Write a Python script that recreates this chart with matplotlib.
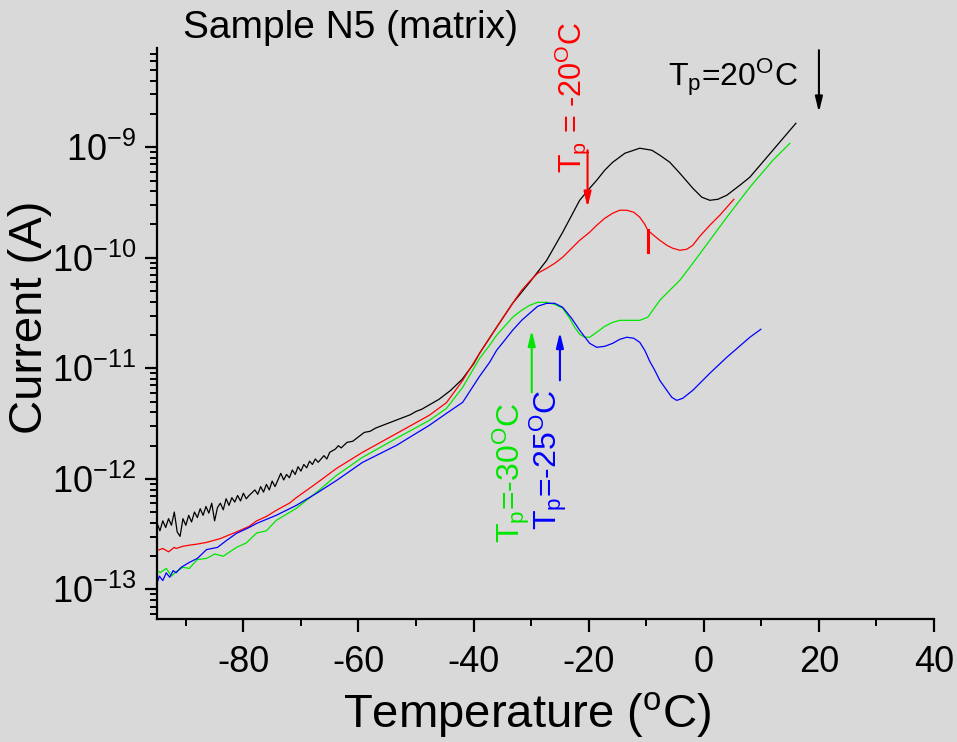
import matplotlib.pyplot as plt
from matplotlib.ticker import NullFormatter
import numpy as np

plt.rcParams['font.family'] = ['Liberation Sans', 'DejaVu Sans']
plt.rcParams['mathtext.fontset'] = 'custom'
plt.rcParams['mathtext.rm'] = 'Liberation Sans'
plt.rcParams['mathtext.it'] = 'Liberation Sans:italic'
plt.rcParams['mathtext.default'] = 'regular'

# temperature (C) / log10(current, A)
T_black = [-95, -94.5, -94, -93.5, -93, -92.5, -92, -91.5, -91, -90.5, -90, -89.5, -89, -88.5,
           -88, -87.5, -87, -86.5, -86, -85.5, -85, -84.5, -84, -83.5, -83, -82.5, -82, -81.5,
           -81, -80.5, -80, -79.5, -79, -78, -77.5, -77, -76.5, -76, -75.5, -75, -74.5, -74,
           -73.5, -73, -72.5, -72, -71.5, -71, -70.5, -70, -69.5, -69, -68.5, -68, -67.5, -67,
           -66, -65.5, -65, -64, -63.5, -63, -62, -61, -60, -59, -58, -57, -56, -55, -54, -53,
           -52, -51, -50, -49, -48, -47, -46, -45, -44, -43, -42, -41, -40,
           -38.96, -36.0, -33.22, -30.26, -27.30, -24.52, -21.57, -19.83, -18.61, -17.22,
           -15.83, -13.7, -11.13, -9.04, -7.65, -5.91, -4.17, -1.91, -0.35, 1.04, 2.43, 4.0,
           6.26, 8.0, 12.0, 16.0]
logI_black = [-12.40, -12.47, -12.38, -12.44, -12.36, -12.42, -12.30, -12.48, -12.52, -12.36,
              -12.42, -12.33, -12.39, -12.30, -12.35, -12.27, -12.33, -12.25, -12.31, -12.22,
              -12.38, -12.26, -12.22, -12.28, -12.18, -12.24, -12.17, -12.21, -12.15, -12.20,
              -12.13, -12.18, -12.15, -12.10, -12.14, -12.07, -12.12, -12.05, -12.10, -12.02,
              -12.07, -12.01, -11.95, -12.01, -11.96, -11.99, -11.92, -11.96, -11.89, -11.93,
              -11.87, -11.90, -11.84, -11.87, -11.82, -11.85, -11.79, -11.82, -11.76, -11.73,
              -11.70, -11.72, -11.67, -11.66, -11.62, -11.58, -11.57, -11.54, -11.52, -11.50,
              -11.48, -11.46, -11.44, -11.42, -11.39, -11.37, -11.34, -11.31, -11.28, -11.24,
              -11.20, -11.15, -11.10, -11.03, -10.96,
              -10.864, -10.629, -10.412, -10.222, -10.023, -9.769, -9.480, -9.371, -9.299, -9.208,
              -9.136, -9.054, -9.009, -9.027, -9.072, -9.136, -9.235, -9.371, -9.452, -9.480,
              -9.471, -9.434, -9.344, -9.271, -9.027, -8.783]

T_red = [-95.1, -94, -93, -92, -91.7, -90.5, -89.4, -88, -86.4, -84, -81.2, -79, -77.7, -76,
         -74.3, -72, -70.8, -67.3, -63.8, -59.3, -53.4, -47.7, -44.7, -41.9,
         -38.96, -36.0, -33.22, -31.65, -30.26, -28.87, -27.30, -25.91, -24.52, -22.96, -21.57,
         -19.83, -18.61, -17.22, -15.83, -14.61, -13.39, -12.17, -11.13, -10.26, -9.74, -8.52,
         -7.65, -6.43, -5.39, -4.17, -2.96, -1.91, -0.70, 1.04, 2.78, 4.0, 5.22]
logI_red = [-12.65, -12.63, -12.66, -12.62, -12.63, -12.61, -12.60, -12.59, -12.575, -12.54,
            -12.48, -12.43, -12.38, -12.34, -12.285, -12.22, -12.17, -12.04, -11.905, -11.76,
            -11.59, -11.425, -11.31, -11.11,
            -10.864, -10.629, -10.412, -10.294, -10.213, -10.140, -10.095, -10.050, -9.995,
            -9.914, -9.842, -9.769, -9.706, -9.643, -9.597, -9.570, -9.570, -9.588, -9.633,
            -9.697, -9.751, -9.805, -9.842, -9.887, -9.914, -9.932, -9.923, -9.887, -9.805,
            -9.706, -9.615, -9.543, -9.471]
# short red mark on the red curve
T_red_mark = [-9.74, -9.74]
logI_red_mark = [-9.751, -9.950]

T_green = [-95.1, -94.5, -93.4, -92.5, -91.7, -90.5, -89.4, -88, -86.4, -85, -83.5, -81.2,
           -79.5, -77.7, -76, -74.3, -70.8, -67.3, -63.8, -59.3, -53.4, -47.7, -44.7, -41.9,
           -38.96, -37.22, -36.0, -34.61, -33.22, -31.65, -30.26, -28.87, -27.30, -25.91,
           -24.52, -23.30, -22.43, -21.57, -20.70, -19.83, -18.61, -17.22, -15.83, -14.61,
           -13.39, -11.13, -9.74, -8.87, -7.65, -5.91, -4.17, -1.91, 1.04, 4.0, 8.0, 12.0,
           14.96]
logI_green = [-12.82, -12.85, -12.81, -12.88, -12.84, -12.80, -12.81, -12.73, -12.72, -12.68,
              -12.70, -12.62, -12.58, -12.49, -12.47, -12.376, -12.267, -12.122, -11.968,
              -11.805, -11.633, -11.471, -11.362, -11.172,
              -10.910, -10.792, -10.701, -10.620, -10.538, -10.475, -10.430, -10.403, -10.403,
              -10.421, -10.457, -10.548, -10.629, -10.692, -10.719, -10.719, -10.674, -10.620,
              -10.584, -10.566, -10.566, -10.566, -10.538, -10.475, -10.385, -10.294, -10.204,
              -10.050, -9.842, -9.633, -9.362, -9.118, -8.964]

T_blue = [-95.1, -94.6, -94, -93.4, -92.8, -92.2, -91.7, -90.8, -89.4, -88, -86.4, -84.5,
          -83, -81.2, -79, -77.7, -74.3, -70.8, -67.3, -63.8, -59.3, -53.4, -47.7, -44.7,
          -41.9, -38.96, -37.22, -36.0, -34.61, -33.22, -31.65, -30.26, -28.87, -27.30, -25.91,
          -24.52, -22.96, -21.57, -19.83, -18.61, -17.22, -15.83, -14.61, -13.39, -12.17,
          -11.13, -10.26, -9.39, -8.52, -7.65, -6.43, -5.57, -4.70, -3.65, -1.91, 1.04, 4.0,
          8.0, 9.91]
logI_blue = [-12.96, -12.88, -12.92, -12.85, -12.89, -12.83, -12.85, -12.80, -12.756, -12.72,
             -12.64, -12.62, -12.56, -12.493, -12.44, -12.403, -12.330, -12.240, -12.131,
             -12.014, -11.851, -11.697, -11.516, -11.407, -11.308,
             -11.072, -10.946, -10.837, -10.747, -10.656, -10.566, -10.502, -10.439, -10.412,
             -10.412, -10.448, -10.548, -10.656, -10.774, -10.810, -10.801, -10.774, -10.738,
             -10.719, -10.728, -10.765, -10.837, -10.937, -11.018, -11.109, -11.199, -11.262,
             -11.290, -11.271, -11.199, -11.045, -10.900, -10.719, -10.647]

# arrows: (x, y_tail, y_tip) in data units
arrow_black = (20.0, 7.55e-9, 2.07e-9)
arrow_red = (-20.2, 9.4e-10, 2.86e-10)
arrow_green = (-29.9, 6.07e-12, 2.21e-11)
arrow_blue = (-25.0, 7.78e-12, 2.12e-11)

fig = plt.figure(figsize=(9.57, 7.42), dpi=100)
fig.patch.set_facecolor('#d9d9d9')
ax = fig.add_axes([0.1641, 0.1658, 0.8119, 0.7695])
ax.set_facecolor('none')

ax.plot(T_black, 10 ** np.array(logI_black), color='black', lw=0.9)
ax.plot(T_red, 10 ** np.array(logI_red), color='red', lw=0.9)
ax.plot(T_red_mark, 10 ** np.array(logI_red_mark), color='red', lw=2.2)
ax.plot(T_green, 10 ** np.array(logI_green), color='#00e600', lw=0.9)
ax.plot(T_blue, 10 ** np.array(logI_blue), color='blue', lw=0.9)

ax.set_yscale('log')
ax.set_xlim(-95, 40)
ax.set_ylim(5.4e-14, 7.9e-9)
ax.set_yticks([1e-13, 1e-12, 1e-11, 1e-10, 1e-9])
ax.yaxis.set_minor_formatter(NullFormatter())
ax.set_xticks(np.arange(-80, 41, 20))
ax.set_xticks(np.arange(-90, 41, 10), minor=True)
ax.set_xticklabels(['-80', '-60', '-40', '-20', '0', '20', '40'])

for s in ['top', 'right']:
    ax.spines[s].set_visible(False)
for s in ['left', 'bottom']:
    ax.spines[s].set_linewidth(1.6)
ax.tick_params(which='major', length=9, width=1.6, labelsize=26)
ax.tick_params(which='minor', length=5, width=1.4)
ax.tick_params(axis='x', which='major', pad=10)
ax.tick_params(axis='y', which='major', pad=6)

ax.set_xlabel('Temperature ($^\\mathregular{o}$C)', fontsize=34)
ax.set_ylabel('Current (A)', fontsize=34)
ax.xaxis.set_label_coords(0.476, -0.125)
ax.yaxis.set_label_coords(-0.135, 0.529)

fig.text(183 / 957, 1 - 38 / 742, 'Sample N5 (matrix)', fontsize=28, va='baseline', ha='left')

def arrow(a, color):
    x, y0, y1 = a
    ax.annotate('', xy=(x, y1), xytext=(x, y0),
                arrowprops=dict(arrowstyle='-|>,head_length=0.9,head_width=0.22',
                                color=color, lw=1.5, shrinkA=0, shrinkB=0))

arrow(arrow_black, 'black')
arrow(arrow_red, 'red')
arrow(arrow_green, '#00e600')
arrow(arrow_blue, 'blue')

ax.text(-6.26, 3.56e-9, 'T$_\\mathregular{p}$=20$^\\mathregular{O}$C', fontsize=23,
        color='black', ha='left', va='baseline')
ax.text(-22.8, 5.82e-10, 'T$_\\mathregular{p}$ = -20$^\\mathregular{O}$C', fontsize=22,
        color='red', rotation=90, ha='center', va='bottom')
ax.text(-33.4, 2.61e-13, 'T$_\\mathregular{p}$=-30$^\\mathregular{O}$C', fontsize=23,
        color='#00e600', rotation=90, ha='center', va='bottom')
ax.text(-27.0, 3.42e-13, 'T$_\\mathregular{p}$=-25$^\\mathregular{O}$C', fontsize=23,
        color='blue', rotation=90, ha='center', va='bottom')

fig.savefig('out.png', dpi=100, facecolor=fig.get_facecolor())
